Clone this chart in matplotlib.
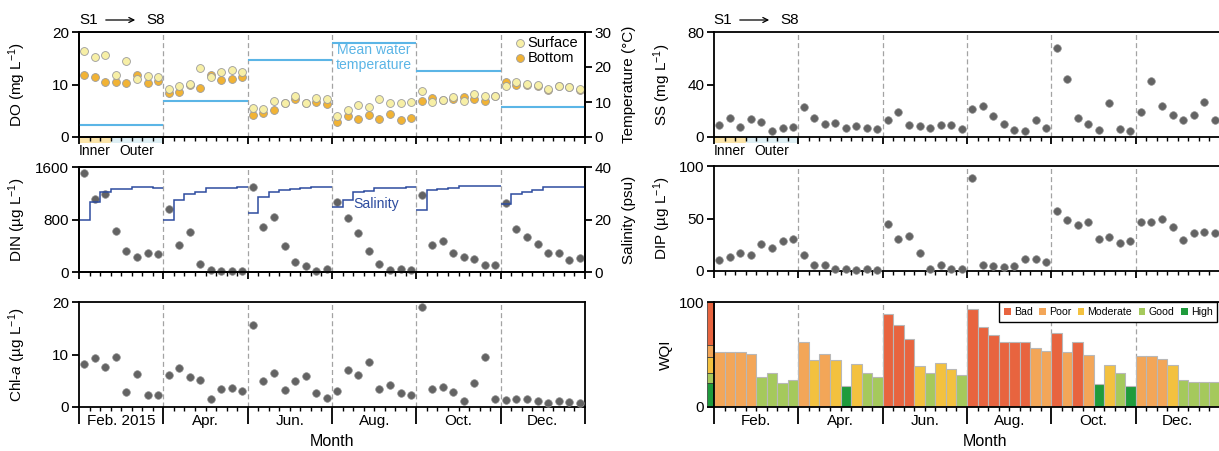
import numpy as np
import matplotlib

matplotlib.use("Agg")
import matplotlib.pyplot as plt  # noqa: E402
from matplotlib import font_manager, transforms  # noqa: E402
from matplotlib.patches import Rectangle, Patch, FancyArrowPatch  # noqa: E402

plt.rcParams['font.family'] = ['Liberation Sans', 'DejaVu Sans']
plt.rcParams['mathtext.fontset'] = 'custom'
plt.rcParams['mathtext.rm'] = 'Liberation Sans'
plt.rcParams['mathtext.it'] = 'Liberation Sans:italic'
plt.rcParams['font.size'] = 11
plt.rcParams['axes.linewidth'] = 1.3

# narrow face for the in-panel notes, if present
try:
    font_manager.findfont('Liberation Sans Narrow', fallback_to_default=False)
    NARROW = ['Liberation Sans Narrow', 'Liberation Sans']
    NSCALE = 1.0
except ValueError:
    NARROW = ['Liberation Sans']
    NSCALE = 0.88

months = ['Feb. 2015', 'Apr.', 'Jun.', 'Aug.', 'Oct.', 'Dec.']
months_short = ['Feb.', 'Apr.', 'Jun.', 'Aug.', 'Oct.', 'Dec.']
N_ST = 8  # stations S1..S8 per cruise

# dissolved oxygen, mg/L (8 stations x 6 months)
do_surface = [16.4, 15.2, 15.6, 11.9, 14.4, 11.1, 11.7, 11.4,
              9.1, 9.7, 10.1, 13.1, 11.4, 12.3, 12.7, 12.4,
              5.6, 5.4, 6.9, 6.4, 7.9, 6.5, 7.5, 7.3,
              4.0, 5.1, 6.1, 5.8, 7.3, 6.5, 6.5, 6.6,
              8.7, 6.6, 7.1, 7.7, 6.8, 8.1, 7.8, 7.9,
              9.8, 10.4, 10.1, 9.9, 9.1, 9.8, 9.6, 9.1]
do_bottom = [11.8, 11.4, 10.5, 10.5, 10.2, 11.9, 10.3, 10.7,
             8.4, 8.5, 10.0, 9.4, 11.8, 10.9, 11.0, 11.5,
             4.1, 4.5, 5.2, 6.4, 7.2, 6.5, 6.7, 6.3,
             2.9, 4.0, 3.5, 4.1, 3.5, 4.3, 3.3, 3.7,
             6.9, 7.5, 7.1, 7.3, 7.6, 7.2, 6.9, 7.9,
             10.4, 9.9, 10.0, 9.8, 9.0, 9.7, 9.5, 9.0]
water_temp = [3.5, 10.2, 22.0, 27.0, 18.9, 8.6]

# dissolved inorganic nitrogen, ug/L
din = [1509, 1112, 1194, 620, 315, 224, 295, 274,
       955, 417, 615, 117, 36, 20, 20, 20,
       1295, 686, 843, 396, 147, 86, 20, 40,
       1067, 828, 589, 315, 127, 25, 41, 25,
       1168, 406, 467, 295, 229, 198, 112, 112,
       1057, 655, 538, 432, 284, 284, 188, 213]
salinity = [19.7, 26.7, 30.5, 31.5, 31.6, 32.5, 32.3, 32.1,
            19.9, 27.6, 29.8, 30.5, 31.9, 32.0, 32.1, 32.3,
            22.3, 28.4, 30.3, 31.1, 31.6, 32.0, 32.2, 32.4,
            24.8, 27.6, 30.3, 30.7, 31.9, 32.0, 32.1, 32.3,
            23.7, 31.4, 31.5, 31.9, 32.9, 32.9, 32.9, 32.9,
            25.8, 29.8, 30.5, 31.1, 32.3, 32.3, 32.4, 32.5]

# chlorophyll-a, ug/L
chla = [8.1, 9.3, 7.7, 9.6, 2.8, 6.2, 2.3, 2.3,
        6.1, 7.4, 5.7, 5.1, 1.5, 3.4, 3.7, 3.0,
        15.7, 5.0, 6.4, 3.2, 5.0, 5.9, 2.7, 1.7,
        3.1, 7.1, 6.1, 8.6, 3.4, 4.1, 2.6, 2.3,
        19.0, 3.4, 3.8, 2.9, 1.1, 4.5, 9.5, 1.6,
        1.3, 1.5, 1.5, 1.1, 0.8, 1.1, 1.0, 0.7]

# suspended solids, mg/L
ss = [9.5, 14.8, 7.4, 13.5, 11.2, 4.9, 6.6, 7.4,
      22.5, 14.1, 9.7, 11.0, 6.9, 8.4, 7.2, 5.9,
      12.8, 18.7, 9.5, 8.7, 6.9, 9.2, 8.9, 5.9,
      21.0, 23.8, 15.8, 10.2, 5.6, 4.6, 12.8, 7.2,
      67.5, 44.2, 14.6, 10.0, 5.4, 25.8, 5.9, 4.9,
      19.2, 42.9, 23.3, 17.1, 12.8, 16.6, 26.8, 12.8]

# dissolved inorganic phosphorus, ug/L
dip = [10.4, 13.6, 16.8, 14.9, 25.9, 21.5, 28.5, 30.1,
       15.2, 6.0, 6.0, 1.6, 1.6, 1.3, 1.6, 0.9,
       44.3, 30.7, 33.5, 16.8, 2.2, 5.7, 1.6, 1.9,
       88.3, 6.0, 5.1, 4.1, 5.1, 11.4, 11.7, 8.9,
       57.6, 48.4, 44.0, 46.2, 30.7, 32.0, 26.9, 28.5,
       46.2, 46.8, 49.1, 41.8, 29.1, 36.1, 36.7, 36.1]

# water quality index and its class
wqi = [52.7, 52.7, 52.7, 50.2, 28.9, 32.7, 23.2, 25.4,
       62.2, 44.8, 50.2, 44.4, 20.0, 41.0, 32.7, 28.9,
       88.3, 78.4, 64.4, 39.4, 32.7, 42.2, 35.9, 30.2,
       93.7, 76.2, 68.3, 62.2, 62.2, 62.2, 55.9, 53.3,
       70.2, 52.7, 62.2, 49.2, 22.2, 40.0, 32.7, 19.7,
       48.3, 48.3, 46.0, 40.0, 26.0, 24.1, 24.1, 24.1]
wqi_class = ['Poor', 'Poor', 'Poor', 'Poor', 'Good', 'Good', 'Good', 'Good',
             'Poor', 'Moderate', 'Poor', 'Moderate', 'High', 'Moderate', 'Good', 'Good',
             'Bad', 'Bad', 'Bad', 'Moderate', 'Good', 'Moderate', 'Moderate', 'Good',
             'Bad', 'Bad', 'Bad', 'Bad', 'Bad', 'Bad', 'Poor', 'Poor',
             'Bad', 'Poor', 'Bad', 'Poor', 'High', 'Moderate', 'Good', 'High',
             'Poor', 'Poor', 'Poor', 'Moderate', 'Good', 'Good', 'Good', 'Good']
class_names = ['Bad', 'Poor', 'Moderate', 'Good', 'High']
class_colors = {'Bad': '#E8643F', 'Poor': '#F3A658', 'Moderate': '#F3C13F',
                'Good': '#A5C95C', 'High': '#1F9B3C'}
class_bounds = [100, 59.0, 47.6, 32.7, 22.5, 0]

GRAY = '#636363'
TEMP_BLUE = '#5BB5E6'
SAL_BLUE = '#2D4C9F'

W, H = 1219, 451
fig = plt.figure(figsize=(W / 100, H / 100), dpi=100)


def add_px_axes(left, top, right, bottom):
    return fig.add_axes([left / W, 1 - bottom / H, (right - left) / W, (bottom - top) / H])


def fig_text(x, y, s, **kw):
    fig.text(x / W, 1 - y / H, s, **kw)


def style_axis(ax, major_len):
    nm = len(months)
    ax.set_xlim(0, nm * N_ST)
    ax.set_xticks(np.arange(0, nm * N_ST + 1, N_ST))
    ax.set_xticks(np.arange(0, nm * N_ST + 1), minor=True)
    ax.set_xticklabels([])
    ax.tick_params(axis='x', which='major', direction='out', length=major_len, width=1.3)
    ax.tick_params(axis='x', which='minor', direction='out', length=3.2, width=1.0)
    ax.tick_params(axis='y', direction='out', length=5, width=1.3, pad=2, labelsize=11)
    for b in range(N_ST, nm * N_ST, N_ST):
        ax.axvline(b, color='#a3a3a3', lw=0.9, dashes=(4, 2.5), zorder=1)


def month_labels(ax, labels, ypx, axh=105):
    for m, lab in enumerate(labels):
        ax.text(m * N_ST + N_ST / 2, -ypx / axh, lab, ha='center', va='center', fontsize=11,
                transform=transforms.blended_transform_factory(ax.transData, ax.transAxes))


def station_bands(ax, axh=105):
    tr = transforms.blended_transform_factory(ax.transData, ax.transAxes)
    ax.add_patch(Rectangle((0, -6 / axh), 3, 6 / axh, transform=tr, color='#FBE4A8',
                           lw=0, clip_on=False, zorder=0.5))
    ax.add_patch(Rectangle((3, -6 / axh), 5, 6 / axh, transform=tr, color='#DEEFF4',
                           lw=0, clip_on=False, zorder=0.5))
    ax.text(1.5, -14 / axh, 'Inner', ha='center', va='center', fontsize=10, transform=tr)
    ax.text(5.5, -14 / axh, 'Outer', ha='center', va='center', fontsize=10, transform=tr)


def station_arrow(x0):
    fig_text(x0, 20, 'S1', ha='left', va='center', fontsize=11)
    fig.add_artist(FancyArrowPatch(
        ((x0 + 24) / W, 1 - 20 / H), ((x0 + 59) / W, 1 - 20 / H),
        transform=fig.transFigure, arrowstyle='->', mutation_scale=9, lw=0.9, color='k'))
    fig_text(x0 + 67, 20, 'S8', ha='left', va='center', fontsize=11)


def gray_points(ax, vals):
    ax.scatter(x, vals, s=30, color=GRAY, edgecolors='#8d8d8d', linewidths=0.5,
               zorder=3, clip_on=False)


x = np.arange(len(months) * N_ST) + 0.5

# ---- left column ----
ax_do = add_px_axes(79, 32, 585, 137)
ax_din = add_px_axes(79, 167, 585, 272)
ax_chl = add_px_axes(79, 302, 585, 407)
ax_temp = ax_do.twinx()
ax_sal = ax_din.twinx()

for ax in (ax_do, ax_din):
    style_axis(ax, 5)
style_axis(ax_chl, 12.5)

# DO with mean water temperature
ax_do.scatter(x, do_bottom, s=32, color='#F1B335', edgecolors='#9c9c9c', linewidths=0.6, zorder=3)
ax_do.scatter(x, do_surface, s=32, color='#F7EFA6', edgecolors='#9c9c9c', linewidths=0.6, zorder=4)
ax_do.set_ylim(0, 20)
ax_do.set_yticks([0, 10, 20])
ax_do.set_ylabel('DO (mg L$^{-1}$)', fontsize=11)
ax_do.yaxis.set_label_coords(-0.1, 0.5)
station_bands(ax_do)

ax_temp.set_ylim(0, 30)
ax_temp.set_yticks([0, 10, 20, 30])
ax_temp.tick_params(axis='y', direction='out', length=5, width=1.3, pad=2, labelsize=11)
for m, t in enumerate(water_temp):
    ax_temp.plot([m * N_ST, (m + 1) * N_ST], [t, t], color=TEMP_BLUE, lw=1.5, solid_capstyle='butt')
ax_temp.text(28, 22.7, 'Mean water\ntemperature', ha='center', va='center', color=TEMP_BLUE,
             family=NARROW, fontsize=11.5 * NSCALE, linespacing=1.05)
ax_temp.set_ylabel('Temperature (°C)', fontsize=11, rotation=90)
ax_temp.yaxis.set_label_coords(1.073, 0.5)

tr = ax_do.transAxes
ax_do.scatter([0.8715], [0.895], s=32, color='#F7EFA6', edgecolors='#9c9c9c', linewidths=0.6,
              transform=tr, zorder=5)
ax_do.scatter([0.8715], [0.752], s=32, color='#F1B335', edgecolors='#9c9c9c', linewidths=0.6,
              transform=tr, zorder=5)
ax_do.text(0.887, 0.895, 'Surface', transform=tr, va='center', fontsize=10.5)
ax_do.text(0.887, 0.752, 'Bottom', transform=tr, va='center', fontsize=10.5)

# DIN with salinity steps
gray_points(ax_din, din)
ax_din.set_ylim(0, 1600)
ax_din.set_yticks([0, 800, 1600])
ax_din.set_ylabel('DIN (µg L$^{-1}$)', fontsize=11)
ax_din.yaxis.set_label_coords(-0.1, 0.5)

ax_sal.set_ylim(0, 40)
ax_sal.set_yticks([0, 20, 40])
ax_sal.tick_params(axis='y', direction='out', length=5, width=1.3, pad=2, labelsize=11)
for m in range(len(months)):
    seg = salinity[m * N_ST:(m + 1) * N_ST]
    ax_sal.stairs(seg, np.arange(m * N_ST, (m + 1) * N_ST + 1), color=SAL_BLUE, lw=1.1, baseline=None)
ax_sal.text(26.0, 25.8, 'Salinity', ha='left', va='center', color=SAL_BLUE,
            family=NARROW, fontsize=11.5 * NSCALE)
ax_sal.set_ylabel('Salinity (psu)', fontsize=11)
ax_sal.yaxis.set_label_coords(1.073, 0.5)

# Chl-a
gray_points(ax_chl, chla)
ax_chl.set_ylim(0, 20)
ax_chl.set_yticks([0, 10, 20])
ax_chl.set_ylabel('Chl-$\\it{a}$ (µg L$^{-1}$)', fontsize=11)
ax_chl.yaxis.set_label_coords(-0.1, 0.5)
month_labels(ax_chl, months, 14)
ax_chl.text(0.5, -35 / 105, 'Month', transform=ax_chl.transAxes, ha='center', va='center',
            fontsize=11.5)

station_arrow(79)

# ---- right column ----
ax_ss = add_px_axes(714, 32, 1220, 137)
ax_dip = add_px_axes(714, 166, 1220, 271)
ax_wqi = add_px_axes(714, 302, 1220, 407)
for ax in (ax_ss, ax_dip):
    style_axis(ax, 5)
style_axis(ax_wqi, 12.5)

gray_points(ax_ss, ss)
ax_ss.set_ylim(0, 80)
ax_ss.set_yticks([0, 40, 80])
ax_ss.set_ylabel('SS (mg L$^{-1}$)', fontsize=11)
ax_ss.yaxis.set_label_coords(-0.081, 0.5)
station_bands(ax_ss)

gray_points(ax_dip, dip)
ax_dip.set_ylim(0, 100)
ax_dip.set_yticks([0, 50, 100])
ax_dip.set_ylabel('DIP (µg L$^{-1}$)', fontsize=11)
ax_dip.yaxis.set_label_coords(-0.081, 0.5)

ax_wqi.bar(x, wqi, width=1.0, color=[class_colors[c] for c in wqi_class],
           edgecolor='#b8b8b8', linewidth=0.8, zorder=2)
ax_wqi.set_ylim(0, 100)
ax_wqi.set_yticks([0, 100])
ax_wqi.set_ylabel('WQI', fontsize=11)
ax_wqi.yaxis.set_label_coords(-0.081, 0.5)
strip = transforms.blended_transform_factory(ax_wqi.transAxes, ax_wqi.transData)
for name, hi, lo in zip(class_names, class_bounds[:-1], class_bounds[1:]):
    ax_wqi.add_patch(Rectangle((-7 / 506, lo), 7 / 506, hi - lo, transform=strip,
                               facecolor=class_colors[name], edgecolor='#333333', lw=0.5,
                               clip_on=False, zorder=0.5))
month_labels(ax_wqi, months_short, 14)
ax_wqi.text((985 - 714) / 506, -35 / 105, 'Month', transform=ax_wqi.transAxes, ha='center',
            va='center', fontsize=11.5)
handles = [Patch(facecolor=class_colors[c], edgecolor='none', label=c) for c in class_names]
leg = ax_wqi.legend(handles=handles, loc='upper left', bbox_to_anchor=((999 - 714) / 506, 1.0),
                    borderaxespad=0, ncol=5, frameon=True, fancybox=False, framealpha=1,
                    edgecolor='black', handlelength=0.65, handleheight=0.65, handletextpad=0.3,
                    columnspacing=0.6, borderpad=0.45,
                    prop={'family': NARROW, 'size': 7.6 * NSCALE / 0.88})
leg.get_frame().set_linewidth(1.0)
leg.set_zorder(5)

station_arrow(713)

fig.savefig('out.png', dpi=100)
